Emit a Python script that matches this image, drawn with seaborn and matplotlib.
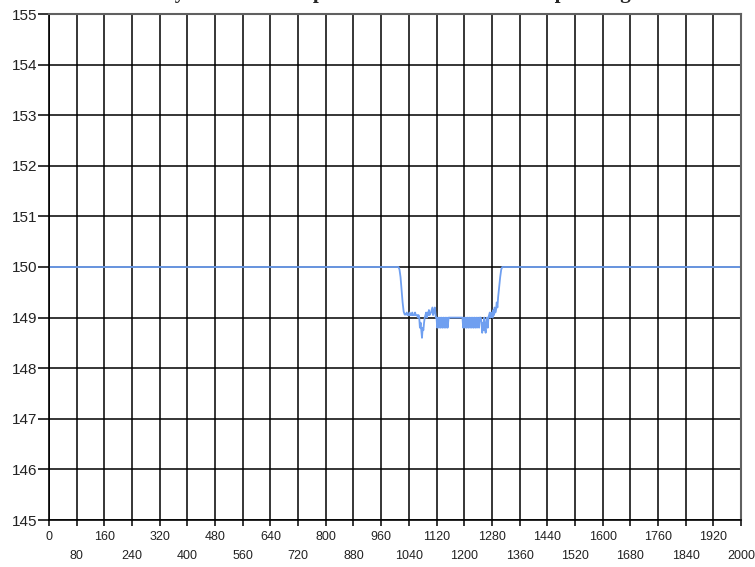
import matplotlib
matplotlib.use("Agg")
import matplotlib.pyplot as plt
import seaborn as sns

# ponto de medida (eixo x) e velocidade lida (eixo y)
amostras = [0, 1010, 1013, 1016, 1019, 1022, 1025, 1028, 1031, 1034, 1036,
            1040, 1042, 1044, 1048, 1050, 1052, 1056, 1058, 1060, 1064,
            1066, 1068, 1070, 1072, 1074, 1076, 1078, 1080, 1082, 1084,
            1086, 1088, 1090, 1092, 1094, 1096, 1098, 1100, 1104, 1108,
            1110, 1112, 1115, 1118, 1120, 1122, 1125, 1127, 1130, 1132,
            1135, 1137, 1140, 1142, 1145, 1147, 1150, 1152, 1155, 1158,
            1170, 1185, 1195, 1197, 1200, 1202, 1205, 1207, 1210, 1212,
            1215, 1217, 1220, 1222, 1225, 1227, 1230, 1232, 1235, 1237,
            1240, 1243, 1245, 1248, 1250, 1252, 1254, 1256, 1258, 1260,
            1262, 1264, 1266, 1268, 1270, 1272, 1274, 1276, 1278, 1280,
            1282, 1284, 1286, 1288, 1290, 1292, 1294, 1296, 1298, 1301,
            1304, 1307, 1310, 1314, 2000]
velocidade = [150.0, 150.0, 149.95, 149.8, 149.55, 149.3, 149.12, 149.06, 149.06, 149.1, 149.05,
              149.05, 149.1, 149.05, 149.05, 149.1, 149.05, 149.05, 149.1, 149.05, 149.05,
              149.0, 149.05, 149.0, 148.8, 148.9, 148.75, 148.6, 148.8, 148.75, 148.9,
              149.0, 149.05, 149.1, 149.0, 149.1, 149.05, 149.15, 149.05, 149.1, 149.2,
              149.05, 149.1, 149.2, 149.0, 149.0, 148.8, 149.0, 148.8, 149.0, 148.8,
              149.0, 148.8, 149.0, 148.8, 149.0, 148.8, 149.0, 148.8, 149.0, 149.0,
              149.0, 149.0, 149.0, 148.8, 149.0, 148.8, 149.0, 148.8, 149.0, 148.8,
              149.0, 148.8, 149.0, 148.8, 149.0, 148.8, 149.0, 148.8, 149.0, 148.8,
              149.0, 148.8, 149.0, 149.0, 148.9, 148.7, 148.9, 148.75, 149.0, 148.8,
              148.7, 148.9, 149.0, 148.8, 149.0, 149.05, 149.1, 149.0, 149.05, 149.1,
              149.0, 149.15, 149.05, 149.2, 149.1, 149.15, 149.3, 149.2, 149.4, 149.6,
              149.8, 149.95, 150.0, 150.0, 150.0]

ticks_linha1 = list(range(0, 2001, 160))
ticks_linha2 = list(range(80, 2001, 160))
ticks_y = list(range(145, 156))

titulo = "Velocity curve of the Speed controller at Load Step Change"

sns.set_style("white")
plt.rcParams['font.family'] = ['Liberation Sans', 'DejaVu Sans']

fig = plt.figure(figsize=(7.55, 5.67), dpi=100)
ax = fig.add_axes([49 / 755, 1 - 520 / 567, 692 / 755, 506 / 567])

sns.lineplot(x=amostras, y=velocidade, ax=ax, color='#6f9ff0',
             linewidth=1.3, estimator=None, sort=False)

ax.set_xlim(0, 2000)
ax.set_ylim(145, 155)
ax.set_xticks(ticks_linha1)
ax.set_xticklabels([str(v) for v in ticks_linha1])
ax.set_xticks(ticks_linha2, minor=True)
ax.set_xticklabels([str(v) for v in ticks_linha2], minor=True)
ax.set_yticks(ticks_y)
ax.set_yticklabels([str(v) for v in ticks_y])

ax.grid(True, which='both', color='black', linewidth=1.1)
ax.set_axisbelow(True)

ax.tick_params(axis='x', which='both', direction='out', length=4.5, width=1.1,
               color='black', labelsize=9, labelcolor='#222222', bottom=True)
ax.tick_params(axis='x', which='major', pad=3.5)
ax.tick_params(axis='x', which='minor', pad=17)
ax.tick_params(axis='y', direction='out', length=8, width=1.1, color='black',
               labelsize=11, labelcolor='#222222', left=True, pad=0.5)

for lado in ['left', 'bottom']:
    ax.spines[lado].set_color('black')
    ax.spines[lado].set_linewidth(1.2)
for lado in ['top', 'right']:
    ax.spines[lado].set_color('#606060')
    ax.spines[lado].set_linewidth(1.5)

ax.set_xlabel('')
ax.set_ylabel('')

# titulo cortado no topo, como no original
fig.text(0.5, 1 + 2 / 567, titulo, ha='center', va='baseline',
         fontsize=15, fontweight='bold', family=['Liberation Serif', 'DejaVu Serif'])

fig.savefig('out.png', dpi=100)
